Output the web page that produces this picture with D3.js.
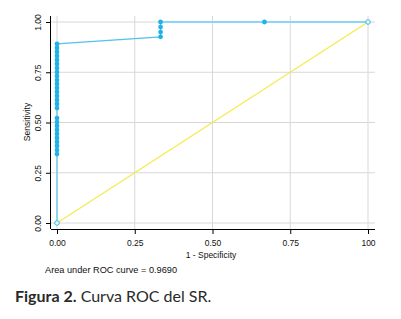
<!DOCTYPE html>
<html><head><meta charset="utf-8">
<script src="https://cdn.jsdelivr.net/npm/d3@7"></script>
<style>body{margin:0;background:#fff}svg{display:block}</style>
</head><body>
<script>
// ROC points (1 - specificity, sensitivity), in curve order
const specX = [0, 0,0,0,0,0,0,0,0,0,0, 0,0,0,0,0,0,0,0,0,0,0,0,0,0,0,0,0, 0.333,0.333,0.333,0.333, 0.667, 1];
const sensY = [0, 0.343,0.363,0.383,0.403,0.423,0.443,0.463,0.483,0.502,0.522,
  0.572,0.592,0.612,0.632,0.652,0.672,0.692,0.711,0.731,0.751,0.771,0.791,0.811,0.831,0.851,0.871,0.891,
  0.926,0.950,0.975,1.0, 1.0, 1.0];
const xTicks = [0, 0.25, 0.5, 0.75, 1];
const xTickLabels = ["0.00","0.25","0.50","0.75","100"];
const yTicks = [0, 0.25, 0.5, 0.75, 1];
const yTickLabels = ["0.00","0.25","0.50","0.75","1.00"];
const aucText = "Area under ROC curve = 0.9690";

(function(){
const W = 401, H = 319;
const svg = d3.select("body").append("svg").attr("width", W).attr("height", H);
const x = d3.scaleLinear().domain([0,1]).range([57,368]);
const y = d3.scaleLinear().domain([0,1]).range([223,22]);
const pl = 51, pr = 375, pt = 16, pb = 229;
const font = "Liberation Sans, Arial, sans-serif";

// grid
svg.append("g").selectAll("line").data(yTicks).join("line")
  .attr("x1", pl).attr("x2", pr).attr("y1", d=>y(d)).attr("y2", d=>y(d))
  .attr("stroke", "#d8d8d8").attr("stroke-width", 1);
svg.append("g").selectAll("line").data(xTicks).join("line")
  .attr("x1", d=>x(d)).attr("x2", d=>x(d)).attr("y1", pt).attr("y2", pb)
  .attr("stroke", "#d8d8d8").attr("stroke-width", 1);

// axes
const xAxis = d3.axisBottom(x).tickValues(xTicks).tickFormat((d,i)=>xTickLabels[i]).tickSize(5).tickSizeOuter(0);
const gx = svg.append("g").attr("transform", `translate(0,${pb})`).call(xAxis);
gx.select(".domain").attr("d", `M${pl},0.5H${pr}`).attr("stroke","#000");
gx.selectAll(".tick line").attr("stroke","#000");
gx.selectAll(".tick text").attr("font-family", font).attr("font-size", 8.5).attr("fill","#111").attr("dy","1em");

const yAxis = d3.axisLeft(y).tickValues(yTicks).tickFormat((d,i)=>yTickLabels[i]).tickSize(5).tickSizeOuter(0);
const gy = svg.append("g").attr("transform", `translate(${pl},0)`).call(yAxis);
gy.select(".domain").attr("d", `M-0.5,${pt}V${pb}`).attr("stroke","#000");
gy.selectAll(".tick line").attr("stroke","#000");
gy.selectAll(".tick text").attr("font-family", font).attr("font-size", 8.5).attr("fill","#111")
  .attr("text-anchor","middle").attr("x", 0).attr("dy", 0)
  .attr("transform", "translate(-10,0) rotate(-90)");

// reference diagonal
svg.append("line").attr("x1", x(0)).attr("y1", y(0)).attr("x2", x(1)).attr("y2", y(1))
  .attr("stroke", "#f7e94a").attr("stroke-width", 1.2);

// ROC curve
const pts = specX.map((v,i)=>[v, sensY[i]]);
svg.append("path").datum(pts)
  .attr("d", d3.line().x(d=>x(d[0])).y(d=>y(d[1])))
  .attr("fill","none").attr("stroke","#55c3ec").attr("stroke-width",1.2);
svg.append("line").attr("x1", x(0.333)).attr("x2", x(1)).attr("y1", y(1)).attr("y2", y(1))
  .attr("stroke","#8dd6f3").attr("stroke-width",2.2);

svg.append("g").selectAll("circle").data(pts).join("circle")
  .attr("cx", d=>x(d[0])).attr("cy", d=>y(d[1]))
  .attr("r", (d,i)=> (i===0||i===pts.length-1) ? 2.3 : 2.4)
  .attr("fill", (d,i)=> (i===0||i===pts.length-1) ? "#e6f6fd" : "#1fb2e8")
  .attr("stroke", (d,i)=> (i===0||i===pts.length-1) ? "#3bbbea" : "none")
  .attr("stroke-width", 1);

// axis titles
svg.append("text").attr("x", 211).attr("y", 258).attr("text-anchor","middle")
  .attr("font-family", font).attr("font-size", 8.5).attr("fill","#111").text("1 - Specificity");
svg.append("text").attr("transform","translate(30,122) rotate(-90)").attr("text-anchor","middle")
  .attr("font-family", font).attr("font-size", 8.5).attr("fill","#111").text("Sensitivity");
svg.append("text").attr("x", 45).attr("y", 273)
  .attr("font-family", font).attr("font-size", 9.2).attr("fill","#111").text(aucText);

// caption
const cap = svg.append("text").attr("x", 15).attr("y", 302)
  .attr("font-family", "Lato, 'Open Sans', sans-serif").attr("font-size", 16).attr("fill","#2a2a2a");
cap.append("tspan").attr("font-weight","bold").text("Figura 2.");
cap.append("tspan").text(" Curva ROC del SR.");
})();
</script>
</body></html>
